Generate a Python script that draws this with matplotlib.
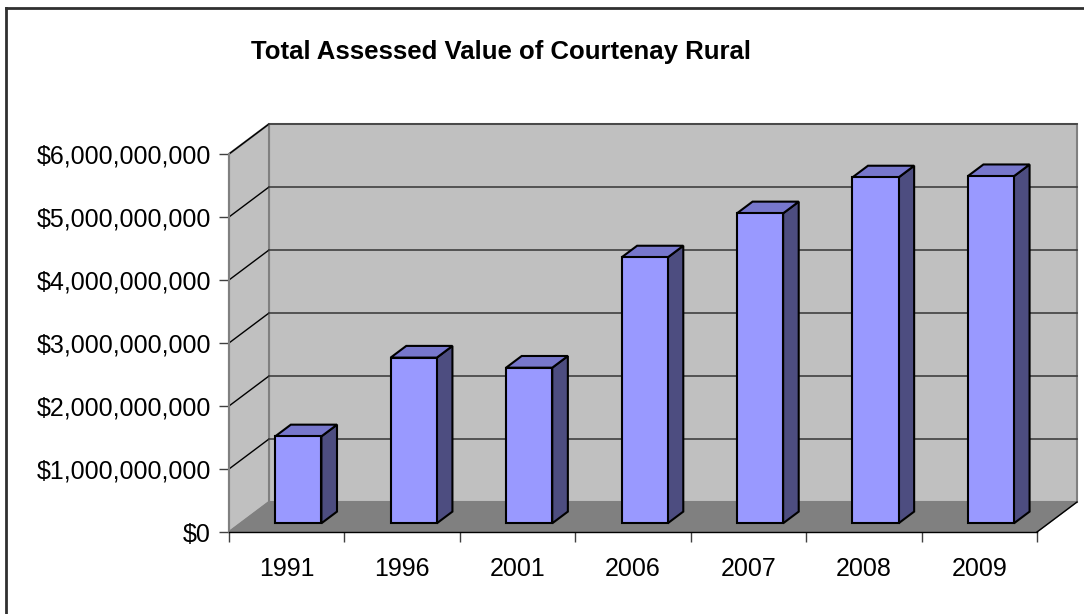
import numpy as np
import matplotlib.pyplot as plt
from matplotlib.patches import Polygon
from matplotlib.ticker import FuncFormatter

plt.rcParams['font.family'] = ['Liberation Sans', 'DejaVu Sans']

# datos
years = ['1991', '1996', '2001', '2006', '2007', '2008', '2009']
values = [1.38e9, 2.63e9, 2.47e9, 4.22e9, 4.92e9, 5.49e9, 5.51e9]
yticks = [0, 1e9, 2e9, 3e9, 4e9, 5e9, 6e9]

W, H = 1084, 614
fig = plt.figure(figsize=(W / 100, H / 100), dpi=100)

# plano frontal del grafico en pixeles
x0, x1 = 229, 1037
yb, yt = 532, 154
ax = fig.add_axes([x0 / W, (H - yb) / H, (x1 - x0) / W, (yb - yt) / H])
n = len(years)
ymax = 6e9
ax.set_xlim(0, n)
ax.set_ylim(0, ymax)

# profundidad (oblicua) en unidades de datos
DX = 40 / ((x1 - x0) / n)
DY = 30 / ((yb - yt) / ymax)

# paredes y suelo
back = Polygon([(DX, DY), (n + DX, DY), (n + DX, ymax + DY), (DX, ymax + DY)],
               closed=True, fc='#C0C0C0', ec='#808080', lw=1.5, clip_on=False, zorder=1)
left = Polygon([(0, 0), (DX, DY), (DX, ymax + DY), (0, ymax)],
               closed=True, fc='#C0C0C0', ec='#808080', lw=1.5, clip_on=False, zorder=1)
floor = Polygon([(0, 0), (n, 0), (n + DX, DY), (DX, DY)],
                closed=True, fc='#808080', ec='#808080', lw=1, clip_on=False, zorder=1.5)
for p in (back, left, floor):
    ax.add_patch(p)
ax.plot([n, n + DX], [0, DY], color='black', lw=1, clip_on=False, zorder=2)

# lineas de cuadricula
for v in yticks[1:]:
    ax.plot([0, DX], [v, v + DY], color='black', lw=1, clip_on=False, zorder=2)
    ax.plot([DX, n + DX], [v + DY, v + DY], color='#404040', lw=1.2, clip_on=False, zorder=2)

# barras 3D
d0, d1 = 0.29, 0.68
w = 0.4
for i, v in enumerate(values):
    xl = i + 0.5 - w / 2 + d0 * DX
    xr = xl + w
    yb0 = d0 * DY
    ytop = v + d0 * DY
    ox, oy = (d1 - d0) * DX, (d1 - d0) * DY
    side = Polygon([(xr, yb0), (xr + ox, yb0 + oy), (xr + ox, ytop + oy), (xr, ytop)],
                   closed=True, fc='#4D4D80', ec='black', lw=1.5, clip_on=False, zorder=3)
    top = Polygon([(xl, ytop), (xr, ytop), (xr + ox, ytop + oy), (xl + ox, ytop + oy)],
                  closed=True, fc='#7777CC', ec='black', lw=1.5, clip_on=False, zorder=3)
    front = Polygon([(xl, yb0), (xr, yb0), (xr, ytop), (xl, ytop)],
                    closed=True, fc='#9999FF', ec='black', lw=1.5, clip_on=False, zorder=4)
    for p in (side, top, front):
        ax.add_patch(p)

ax.patch.set_visible(False)
for s in ['top', 'right']:
    ax.spines[s].set_visible(False)
ax.spines['left'].set_color('#808080')
ax.spines['left'].set_linewidth(1.5)
ax.spines['bottom'].set_color('black')
ax.spines['bottom'].set_linewidth(1)
ax.spines['left'].set_zorder(2.5)
ax.spines['bottom'].set_zorder(2.5)

ax.set_yticks(yticks)
ax.yaxis.set_major_formatter(FuncFormatter(lambda v, p: '${:,.0f}'.format(v)))
ax.tick_params(axis='y', length=7, width=1, color='#404040', labelsize=18, pad=6)
ax.set_xticks(np.arange(n + 1))
ax.set_xticklabels([])
ax.set_xticks(np.arange(n) + 0.5, minor=True)
ax.set_xticklabels(years, minor=True)
ax.tick_params(axis='x', which='major', length=7, width=1, color='#404040')
ax.tick_params(axis='x', which='minor', length=0, labelsize=18, pad=18)

fig.text(501 / W, 1 - 52 / H, 'Total Assessed Value of Courtenay Rural',
         ha='center', va='center', fontsize=18.5, fontweight='bold')

# borde del area del grafico
fig.add_artist(plt.Line2D([6 / W, 6 / W], [0, 1 - 8 / H], transform=fig.transFigure, color='#303030', lw=2))
fig.add_artist(plt.Line2D([6 / W, 1], [1 - 8 / H, 1 - 8 / H], transform=fig.transFigure, color='#303030', lw=2))

fig.savefig('out.png', dpi=100)
